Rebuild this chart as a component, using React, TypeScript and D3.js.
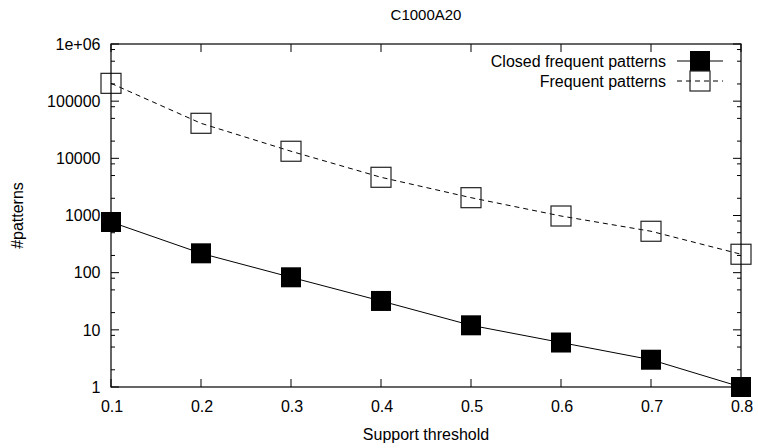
import React from "react";
import * as d3 from "d3";

const WIDTH = 758;
const HEIGHT = 448;
const PLOT = { left: 111, right: 741, top: 44, bottom: 387 };

const thresholds = [0.1, 0.2, 0.3, 0.4, 0.5, 0.6, 0.7, 0.8];
const closedPatterns = [770, 218, 83, 32, 12, 6, 3, 1];
const frequentPatterns = [205000, 41000, 13300, 4660, 2050, 980, 530, 210];

const xTickLabels = ["0.1", "0.2", "0.3", "0.4", "0.5", "0.6", "0.7", "0.8"];
const yTickValues = [1, 10, 100, 1000, 10000, 100000, 1000000];
const yTickLabels = ["1", "10", "100", "1000", "10000", "100000", "1e+06"];
const minorFactors = [2, 5, 8];

const FONT = "'Liberation Sans', Arial, sans-serif";

const App = () => {
  const xScale = d3.scaleLinear().domain([0.1, 0.8]).range([PLOT.left, PLOT.right]);
  const yScale = d3.scaleLog().domain([1, 1e6]).range([PLOT.bottom, PLOT.top]);

  const closedData = thresholds.map((t, i) => ({ x: t, y: closedPatterns[i] }));
  const freqData = thresholds.map((t, i) => ({ x: t, y: frequentPatterns[i] }));

  const line = d3
    .line<{ x: number; y: number }>()
    .x((d) => xScale(d.x))
    .y((d) => yScale(d.y));

  const minorTicks: number[] = [];
  yTickValues.slice(0, -1).forEach((v) => {
    minorFactors.forEach((f) => minorTicks.push(v * f));
  });

  const SQ = 20;

  return (
    <svg
      width={WIDTH}
      height={HEIGHT}
      style={{ position: "absolute", left: 0, top: 0, background: "#fff" }}
      fontFamily={FONT}
    >
      <rect x={0} y={0} width={WIDTH} height={HEIGHT} fill="#fff" />
      {/* title */}
      <text x={(PLOT.left + PLOT.right) / 2} y={20} fontSize={15} textAnchor="middle">
        C1000A20
      </text>

      {/* ticks */}
      <g stroke="#000" strokeWidth={1}>
        {thresholds.map((t, i) => (
          <g key={"xt" + i}>
            <line x1={xScale(t)} x2={xScale(t)} y1={PLOT.bottom} y2={PLOT.bottom - 8} />
            <line x1={xScale(t)} x2={xScale(t)} y1={PLOT.top} y2={PLOT.top + 8} />
          </g>
        ))}
        {yTickValues.map((v, i) => (
          <g key={"yt" + i}>
            <line x1={PLOT.left} x2={PLOT.left + 8} y1={yScale(v)} y2={yScale(v)} />
            <line x1={PLOT.right} x2={PLOT.right - 8} y1={yScale(v)} y2={yScale(v)} />
          </g>
        ))}
        {minorTicks.map((v, i) => (
          <g key={"ym" + i}>
            <line x1={PLOT.left} x2={PLOT.left + 4} y1={yScale(v)} y2={yScale(v)} />
            <line x1={PLOT.right} x2={PLOT.right - 4} y1={yScale(v)} y2={yScale(v)} />
          </g>
        ))}
      </g>

      {/* tick labels */}
      <g fontSize={16} fill="#000">
        {thresholds.map((t, i) => (
          <text key={"xl" + i} x={xScale(t) + 1} y={411.5} textAnchor="middle">
            {xTickLabels[i]}
          </text>
        ))}
        {yTickValues.map((v, i) => (
          <text key={"yl" + i} x={100.5} y={yScale(v) + 5.8} textAnchor="end">
            {yTickLabels[i]}
          </text>
        ))}
      </g>

      {/* axis labels */}
      <text x={426} y={440} fontSize={16} textAnchor="middle">
        Support threshold
      </text>
      <text
        transform={`translate(23, ${(PLOT.top + PLOT.bottom) / 2}) rotate(-90)`}
        fontSize={16}
        textAnchor="middle"
      >
        #patterns
      </text>

      {/* series lines */}
      <path d={line(freqData) || ""} fill="none" stroke="#000" strokeWidth={1} strokeDasharray="5,4" />
      <path d={line(closedData) || ""} fill="none" stroke="#000" strokeWidth={1} />

      {/* markers */}
      {freqData.map((d, i) => (
        <rect
          key={"fm" + i}
          x={xScale(d.x) - SQ / 2}
          y={yScale(d.y) - SQ / 2}
          width={SQ}
          height={SQ}
          fill="none"
          stroke="#222"
          strokeWidth={1.2}
        />
      ))}
      {closedData.map((d, i) => (
        <rect
          key={"cm" + i}
          x={xScale(d.x) - SQ / 2}
          y={yScale(d.y) - SQ / 2}
          width={SQ}
          height={SQ}
          fill="#000"
        />
      ))}

      {/* legend */}
      <g fontSize={16}>
        <text x={666} y={67} textAnchor="end">
          Closed frequent patterns
        </text>
        <line x1={677} x2={723} y1={61} y2={61} stroke="#000" strokeWidth={1} />
        <rect x={700 - SQ / 2} y={61 - SQ / 2} width={SQ} height={SQ} fill="#000" />
        <text x={666} y={87} textAnchor="end">
          Frequent patterns
        </text>
        <line x1={677} x2={723} y1={81} y2={81} stroke="#000" strokeWidth={1} strokeDasharray="5,4" />
        <rect
          x={700 - SQ / 2}
          y={81 - SQ / 2}
          width={SQ}
          height={SQ}
          fill="none"
          stroke="#222"
          strokeWidth={1.2}
        />
      </g>

      {/* border */}
      <rect
        x={PLOT.left}
        y={PLOT.top}
        width={PLOT.right - PLOT.left}
        height={PLOT.bottom - PLOT.top}
        fill="none"
        stroke="#000"
        strokeWidth={1.2}
      />
    </svg>
  );
};

export default App;
